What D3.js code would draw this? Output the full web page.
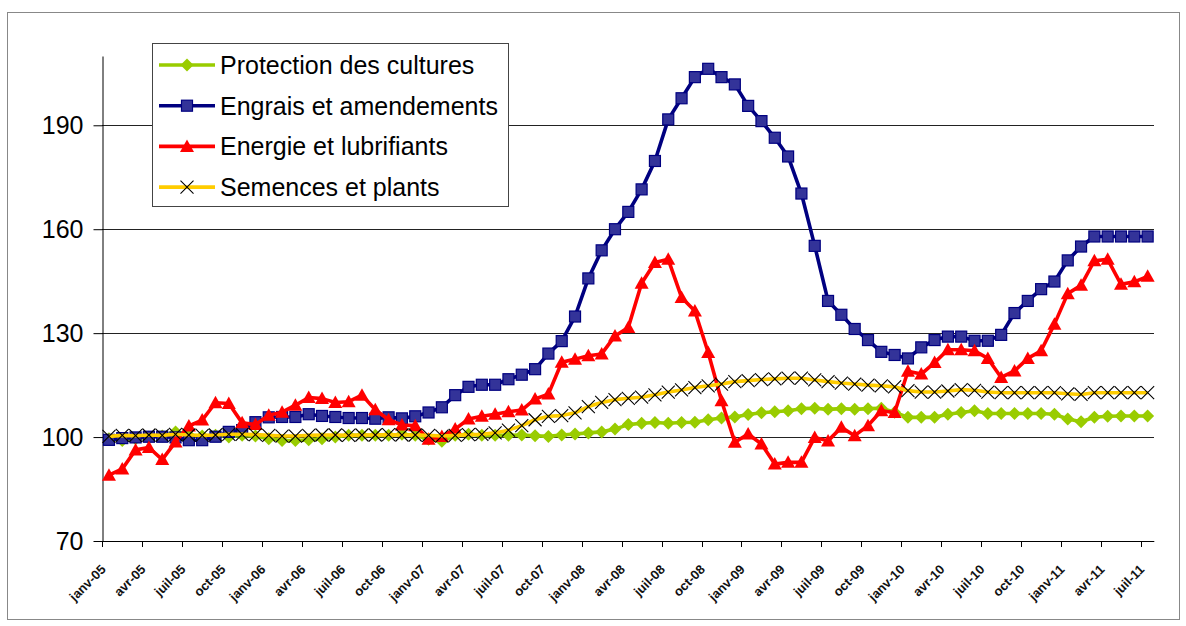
<!DOCTYPE html>
<html>
<head>
<meta charset="utf-8">
<script src="https://cdn.jsdelivr.net/npm/d3@7/dist/d3.min.js"></script>
<style>
  body { margin: 0; background: #fff; }
  svg { font-family: "Liberation Sans", Arial, sans-serif; }
</style>
</head>
<body>
<div class="chart"></div>
<script>
// months janv-05 .. juil-11
const annees = ['05', '06', '07', '08', '09', '10', '11'];
const mois = ['janv', 'févr', 'mars', 'avr', 'mai', 'juin', 'juil', 'août', 'sept', 'oct', 'nov', 'déc'];
const tickLabels = ['janv-05', 'avr-05', 'juil-05', 'oct-05', 'janv-06', 'avr-06', 'juil-06', 'oct-06',
  'janv-07', 'avr-07', 'juil-07', 'oct-07', 'janv-08', 'avr-08', 'juil-08', 'oct-08',
  'janv-09', 'avr-09', 'juil-09', 'oct-09', 'janv-10', 'avr-10', 'juil-10', 'oct-10',
  'janv-11', 'avr-11', 'juil-11'];
const yTicks = [70, 100, 130, 160, 190];

const protection = [99.5, 99, 99.5, 100, 100.3, 101.5, 100.5, 100.3, 100.5, 100,
  100.5, 100.3, 99.5, 99, 99, 99.2, 99.5, 100, 100.5, 100.5,
  100.5, 100.5, 100.8, 100.5, 99.4, 98.8, 100.5, 100.8, 100.5, 100.5,
  100.5, 100.6, 100.4, 100.2, 100.6, 100.9, 101.2, 101.5, 102.3, 103.6,
  104, 104.2, 104, 104.2, 104.3, 105, 105.5, 105.8, 106.5, 107,
  107.3, 107.6, 108.2, 108.3, 108, 108.2, 108, 108.2, 108.3, 107.2,
  105.7, 105.7, 105.7, 106.6, 107.1, 107.6, 106.8, 106.8, 106.8, 106.8,
  106.8, 106.6, 105.2, 104.4, 105.7, 106, 106.1, 106.1, 106.1];
const engrais = [99.2, 99.7, 99.9, 100.1, 100.1, 99.9, 99.1, 99.1, 100.1, 101.5,
  102, 104.3, 105.7, 105.8, 105.8, 106.6, 106.1, 105.8, 105.5, 105.5,
  105.3, 105.7, 105.4, 106, 107.1, 108.6, 112.1, 114.5, 115.1, 115.1,
  116.7, 118, 119.6, 124.1, 127.7, 134.8, 145.8, 153.9, 160, 165,
  171.5, 179.7, 191.7, 197.8, 203.9, 206.3, 203.9, 201.8, 195.6, 191.2,
  186.4, 181, 170.3, 155.2, 139.3, 135.3, 131.2, 128, 124.6, 123.7,
  122.7, 125.9, 128, 129, 129, 127.8, 127.8, 129.5, 135.8, 139.3,
  142.7, 144.9, 151, 155, 157.9, 157.9, 157.9, 157.9, 157.9];
const energie = [89, 90.8, 96.3, 97, 93.5, 98.6, 103.2, 104.9, 109.9, 109.7,
  104.1, 103.6, 106.3, 107.2, 109.2, 111.4, 111.1, 110, 110.2, 112.1,
  107.9, 105, 103.5, 103.3, 99.4, 100.2, 102.3, 105.2, 106, 106.6,
  107.3, 107.8, 111, 112.4, 121.6, 122.5, 123.5, 124, 129.2, 131.6,
  144.4, 150.4, 151.3, 140.3, 136.4, 124.4, 110.5, 98.5, 100.9, 98,
  92.2, 92.7, 92.7, 99.9, 98.9, 102.8, 100.4, 103.3, 107.6, 107.1,
  119, 118.2, 121.5, 125.2, 125.2, 124.9, 122.7, 117.2, 119.1, 122.7,
  124.9, 132.6, 141.4, 143.8, 150.9, 151.3, 144.1, 144.8, 146.4];
const semences = [100.2, 100.5, 100.4, 100.6, 100.5, 100.8, 100.6, 100.5, 100.6, 100.8,
  100.8, 100.7, 100.5, 100.3, 100.3, 100.5, 100.6, 100.6, 100.5, 100.6,
  100.6, 100.7, 100.6, 100.6, 100.5, 100.3, 100.5, 100.7, 100.8, 101.2,
  102, 103.3, 105, 106, 106.2, 107, 108.8, 110, 110.8, 111.2,
  111.5, 112.2, 113, 113.6, 114.3, 114.8, 115.3, 116, 116.3, 116.6,
  116.8, 117, 117, 116.5, 116, 115.6, 115.3, 115, 114.8, 114.5,
  113.4, 113, 113, 113.3, 113.7, 113.5, 113, 112.8, 112.8, 112.8,
  112.8, 112.8, 112.5, 112.3, 112.8, 112.8, 112.8, 112.8, 112.8];

const categories = [];
annees.forEach(a => mois.forEach(m => categories.push(m + '-' + a)));
categories.length = engrais.length;

const series = [
  {name: 'Protection des cultures', values: protection, color: '#99cc00', marker: 'diamond'},
  {name: 'Engrais et amendements', values: engrais, color: '#000080', marker: 'square'},
  {name: 'Energie et lubrifiants', values: energie, color: '#ff0000', marker: 'triangle'},
  {name: 'Semences et plants', values: semences, color: '#ffcc00', marker: 'cross'}
];

const width = 1186, height = 626;
const svg = d3.select('.chart').append('svg')
  .attr('width', width)
  .attr('height', height);

// chart area border
svg.append('rect')
  .attr('x', 7.5).attr('y', 12.5)
  .attr('width', 1172).attr('height', 607)
  .attr('fill', '#fff').attr('stroke', '#888');

const x = d3.scaleBand().domain(categories).range([102.3, 1154.3]).padding(0);
const y = d3.scaleLinear().domain([70, 210]).range([541, 56]);
const cx = d => x(d) + x.bandwidth() / 2;

// gridlines
svg.append('g').selectAll('line')
  .data(yTicks.slice(1))
  .enter().append('line')
    .attr('x1', 102).attr('x2', 1154)
    .attr('y1', d => Math.round(y(d)) + 0.5)
    .attr('y2', d => Math.round(y(d)) + 0.5)
    .attr('stroke', '#222').attr('stroke-width', 1);

// y axis
const yAxis = d3.axisLeft(y).tickValues(yTicks).tickSize(9).tickSizeOuter(0).tickPadding(10);
const gy = svg.append('g').attr('transform', 'translate(102.5,0)').call(yAxis);
gy.selectAll('text').attr('font-size', 25).attr('fill', '#000')
  .attr('font-family', '"Liberation Sans", Arial, sans-serif');
gy.selectAll('line, path').attr('stroke', '#000');

// x axis
const gx = svg.append('g');
gx.append('line')
  .attr('x1', 102).attr('x2', 1154.3)
  .attr('y1', 541.5).attr('y2', 541.5)
  .attr('stroke', '#000');
gx.selectAll('.tick')
  .data(tickLabels)
  .enter().append('line')
    .attr('x1', (d, i) => Math.round(x(categories[i * 3])) + 0.5)
    .attr('x2', (d, i) => Math.round(x(categories[i * 3])) + 0.5)
    .attr('y1', 541).attr('y2', 547)
    .attr('stroke', '#000');
gx.selectAll('text')
  .data(tickLabels)
  .enter().append('text')
    .attr('transform', (d, i) => 'translate(' + (x(categories[i * 3]) + 1) + ',567) rotate(-45)')
    .attr('text-anchor', 'end')
    .attr('dy', '0.35em')
    .attr('font-size', 13)
    .attr('font-weight', 'bold')
    .attr('fill', '#111')
    .text(d => d);

const line = d3.line()
  .x((d, i) => cx(categories[i]))
  .y(d => y(d));

function drawMarker(g, type, color, px, py) {
  if (type === 'diamond') {
    g.append('path').attr('d', 'M0,-6.5L6.5,0L0,6.5L-6.5,0Z')
      .attr('transform', 'translate(' + px + ',' + py + ')')
      .attr('fill', color);
  } else if (type === 'square') {
    g.append('rect').attr('x', px - 5.5).attr('y', py - 5.5).attr('width', 11).attr('height', 11)
      .attr('fill', '#333399').attr('stroke', '#000080').attr('stroke-width', 1.2);
  } else if (type === 'triangle') {
    g.append('path').attr('d', 'M0,-7L7,5.5L-7,5.5Z')
      .attr('transform', 'translate(' + px + ',' + py + ')')
      .attr('fill', color);
  } else {
    g.append('path').attr('d', 'M-6.5,-6.5L6.5,6.5M-6.5,6.5L6.5,-6.5')
      .attr('transform', 'translate(' + px + ',' + py + ')')
      .attr('stroke', '#000').attr('stroke-width', 1.1).attr('fill', 'none');
  }
}

series.forEach(s => {
  const g = svg.append('g');
  g.append('path')
    .datum(s.values)
    .attr('d', line)
    .attr('fill', 'none')
    .attr('stroke', s.color)
    .attr('stroke-width', 3.6)
    .attr('stroke-linejoin', 'round');
  s.values.forEach((v, i) => drawMarker(g, s.marker, s.color, cx(categories[i]), y(v)));
});

// legend
const legend = svg.append('g');
legend.append('rect')
  .attr('x', 152.5).attr('y', 43.5)
  .attr('width', 356).attr('height', 163)
  .attr('fill', '#fff').attr('stroke', '#444');
series.forEach((s, i) => {
  const ly = 65 + i * 40.7;
  legend.append('line')
    .attr('x1', 159).attr('x2', 215)
    .attr('y1', ly).attr('y2', ly)
    .attr('stroke', s.color).attr('stroke-width', 3.6);
  drawMarker(legend, s.marker, s.color, 187, ly);
  legend.append('text')
    .attr('x', 220).attr('y', ly)
    .attr('dy', '0.36em')
    .attr('font-size', 25)
    .attr('fill', '#000')
    .text(s.name);
});
</script>
</body>
</html>
